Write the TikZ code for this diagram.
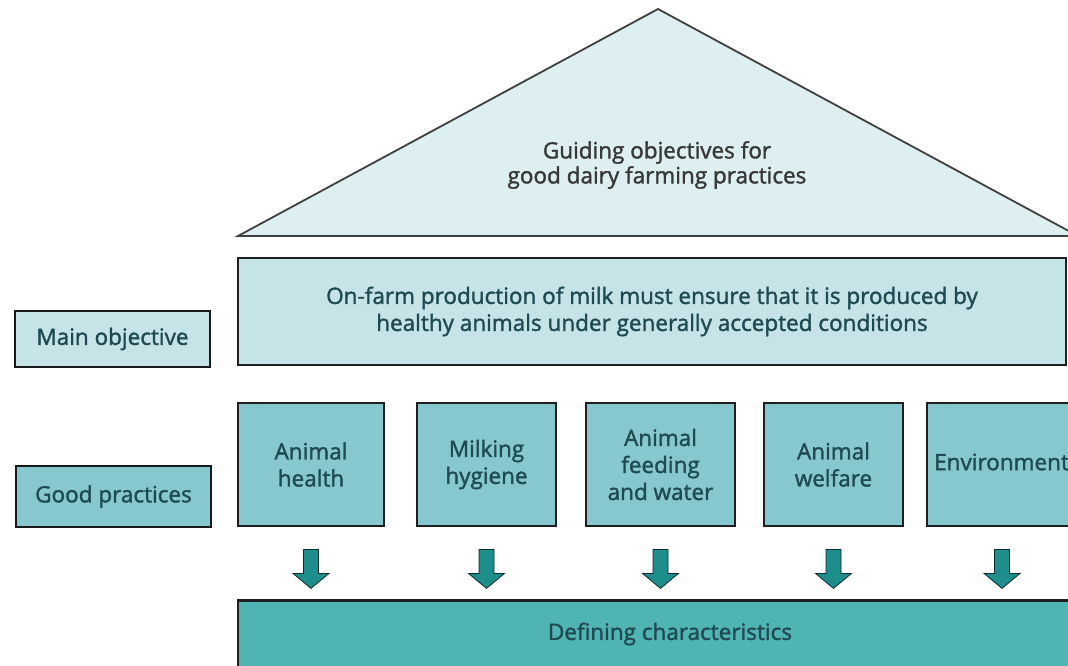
\documentclass[tikz,border=0pt]{standalone}
\usepackage{fontspec}
\setmainfont{Open Sans}
\newfontfamily\boxfont{Open Sans}[FakeBold=1.6]
\usepackage{xcolor}
\usetikzlibrary{shapes,arrows,positioning,calc}

\definecolor{roofblue}{HTML}{DDEFF1}
\definecolor{paleblue}{HTML}{C6E4E8}
\definecolor{midteal}{HTML}{86C8CD}
\definecolor{deepteal}{HTML}{50B4B3}
\definecolor{arrowteal}{HTML}{1E8E8C}
\definecolor{inkteal}{HTML}{1F4A52}

\tikzstyle{boxtext} = [font=\boxfont\fontsize{22.5}{27}\selectfont]
\tikzstyle{sidebox} = [boxtext, draw=black!90, line width=2.8pt, minimum width=195pt, text=inkteal]
\tikzstyle{practice} = [boxtext, draw=black!88, line width=2.8pt, fill=midteal, minimum height=123pt, text=inkteal, align=center]
\tikzstyle{blockarrow} = [fill=arrowteal, draw=black!70!arrowteal, line width=0.8pt, line join=miter]

\begin{document}
\begin{tikzpicture}[x=1pt, y=-1pt]
            \clip (0,0) rectangle (1068,666);
            \fill[white] (0,0) rectangle (1068,666);

            % roof
            \draw[fill=roofblue, draw=black!75, line width=1.8pt, line join=miter] (238,236) -- (658,9) -- (1078,236) -- cycle;
            \node[boxtext, text=black!78, align=center, font=\boxfont\fontsize{22.5}{25}\selectfont] (guide) at (657,165) {Guiding objectives for\\good dairy farming practices};

            \node[boxtext, draw=black!88, line width=2.8pt, fill=paleblue, minimum width=828pt, minimum height=107pt, text=inkteal, align=center] (main) at (652,311.5) {On-farm production of milk must ensure that it is produced by\\healthy animals under generally accepted conditions};

            \node[sidebox, fill=paleblue, minimum height=56pt] (mo) at (112.5,339) {Main objective};
            \node[sidebox, fill=midteal, minimum height=61pt] (gp) at (113.5,496.5) {Good practices};

            \node[practice, minimum width=146pt] (ah) at (311,464.5) {Animal\\health};
            \node[practice, minimum width=139pt] (mh) at (486.5,464.5) {Milking\\hygiene};
            \node[practice, minimum width=149pt] (af) at (660.5,464.5) {Animal\\feeding\\and water};
            \node[practice, minimum width=139pt] (aw) at (833.5,464.5) {Animal\\welfare};
            \node[practice, minimum width=150pt] (env) at (1002,464.5) {};
            \node[boxtext, anchor=west, inner sep=0pt, text=inkteal] (envtext) at (934,462) {Environment};

            \node[draw=black!88, line width=2.8pt, fill=deepteal, minimum width=864pt, minimum height=80pt, anchor=north] (def) at (670,599) {};
            \node[boxtext, text=inkteal] (deftext) at (670,634) {Defining characteristics};

            % arrows down to the characteristics
            \foreach \n in {ah,mh,af,aw,env}
                \draw[blockarrow] ($(\n.south)+(-7.5,22)$) -- ++(15,0) -- ++(0,24) -- ++(10.5,0) -- ++(-18,15) -- ++(-18,-15) -- ++(10.5,0) -- cycle;
        \end{tikzpicture}
\end{document}
